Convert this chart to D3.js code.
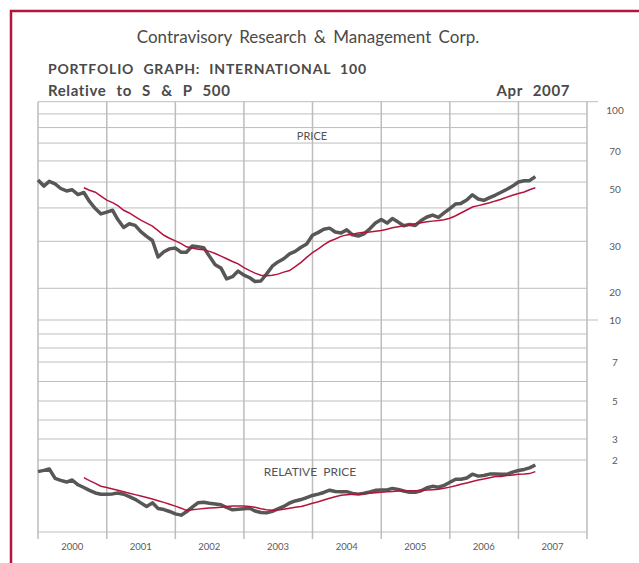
<!DOCTYPE html>
<html>
<head>
<meta charset="utf-8">
<script src="https://cdn.jsdelivr.net/npm/d3@7"></script>
<style>
body { margin: 0; background: #fff; }
svg { display: block; font-family: Lato, "Open Sans", sans-serif; }
</style>
</head>
<body>
<svg id="chart" width="639" height="563"></svg>
<script>
// monthly closes, Jan 2000 .. Apr 2007
var priceValues = [50.9, 48.3, 50.3, 49.2, 47.3, 46.3, 46.8, 44.9, 45.7, 42.3, 39.8, 38.0,
	38.6, 39.2, 36.2, 33.8, 34.9, 34.4, 32.6, 31.3, 30.2, 26.2, 27.4, 28.1,
	28.3, 27.3, 27.3, 28.8, 28.6, 28.4, 26.4, 24.5, 23.8, 21.7, 22.1, 23.2,
	22.4, 21.9, 21.2, 21.3, 22.6, 24.2, 25.1, 25.8, 26.9, 27.5, 28.5, 29.3,
	31.6, 32.4, 33.3, 33.6, 32.5, 32.2, 33.1, 31.7, 31.4, 32.0, 33.4, 35.1,
	36.2, 35.1, 36.5, 35.4, 34.3, 34.7, 34.4, 35.9, 37.0, 37.6, 36.9, 38.3,
	39.8, 41.4, 41.6, 42.8, 44.8, 43.2, 42.7, 43.7, 44.7, 45.8, 47.0, 48.3,
	50.0, 50.6, 50.6, 52.4];

// moyenne mobile, commence en sept 2000
var avgStart = 8;
var priceAvg = [47.6, 46.6, 45.8, 44.3,
	42.8, 41.9, 40.8, 39.2, 38.3, 37.1, 36.0, 35.1, 34.2, 32.9, 31.6, 30.8,
	30.1, 29.4, 28.6, 28.3, 28.0, 27.9, 27.5, 27.0, 26.4, 25.8, 25.2, 24.7,
	23.9, 23.3, 22.8, 22.4, 22.3, 22.4, 22.6, 23.0, 23.3, 24.1, 25.0, 26.1,
	27.2, 28.1, 29.1, 30.0, 30.6, 31.3, 31.7, 31.9, 32.2, 32.4, 32.5, 32.7,
	32.9, 33.3, 33.7, 34.0, 34.3, 34.6, 34.9, 35.2, 35.5, 35.7, 35.9, 36.1,
	36.6, 37.4, 38.3, 39.3, 40.3, 40.8, 41.3, 41.8, 42.5, 43.1, 43.9, 44.6,
	45.3, 45.9, 46.8, 47.6];

var relValues = [1.172, 1.184, 1.199, 1.105, 1.087, 1.071, 1.090, 1.046, 1.022, 0.997, 0.975, 0.964,
	0.964, 0.967, 0.974, 0.964, 0.945, 0.923, 0.895, 0.867, 0.895, 0.853, 0.845, 0.831,
	0.814, 0.805, 0.829, 0.862, 0.895, 0.899, 0.892, 0.886, 0.880, 0.860, 0.843, 0.847,
	0.851, 0.854, 0.834, 0.824, 0.821, 0.832, 0.849, 0.868, 0.894, 0.910, 0.921, 0.937,
	0.954, 0.965, 0.979, 0.998, 0.987, 0.985, 0.986, 0.971, 0.965, 0.972, 0.983, 0.997,
	1.000, 1.001, 1.014, 1.004, 0.991, 0.980, 0.980, 0.994, 1.019, 1.032, 1.024, 1.040,
	1.069, 1.097, 1.097, 1.109, 1.146, 1.127, 1.133, 1.147, 1.148, 1.146, 1.145, 1.167,
	1.183, 1.194, 1.210, 1.241];

var relAvg = [1.112, 1.084, 1.059, 1.033,
	1.021, 1.009, 0.997, 0.985, 0.973, 0.961, 0.950, 0.937, 0.925, 0.912, 0.899, 0.885,
	0.870, 0.855, 0.839, 0.844, 0.848, 0.853, 0.856, 0.859, 0.862, 0.867, 0.871, 0.871,
	0.871, 0.867, 0.861, 0.850, 0.844, 0.840, 0.841, 0.847, 0.854, 0.861, 0.868, 0.879,
	0.892, 0.904, 0.917, 0.931, 0.944, 0.956, 0.960, 0.963, 0.965, 0.969, 0.973, 0.976,
	0.980, 0.984, 0.987, 0.991, 0.992, 0.993, 0.994, 0.996, 0.999, 1.003, 1.006, 1.016,
	1.025, 1.037, 1.050, 1.063, 1.076, 1.090, 1.100, 1.112, 1.123, 1.124, 1.133, 1.139,
	1.145, 1.147, 1.152, 1.172];

var yearLabels = ["2000", "2001", "2002", "2003", "2004", "2005", "2006", "2007"];
var priceGrid = [100, 90, 80, 70, 60, 50, 40, 30, 20];
var priceTicks = [100, 70, 50, 30, 20];
var lowerGrid = [10, 9, 8, 7, 6, 5, 4, 3, 2];
var lowerTicks = [10, 7, 5, 3, 2];

var svg = d3.select("#chart");
var red = "#b3143c", grey = "#575757", gridCol = "#bdbdbd", txt = "#4a4a4a";

var plotLeft = 38, plotRight = 587, plotTop = 101.7, plotBottom = 532, split = 320;

// échelles
var months = d3.timeMonth.range(new Date(2000, 0, 1), new Date(2007, 4, 1));
var x = d3.scaleTime().domain([new Date(2000, 0, 1), new Date(2008, 0, 1)]).range([plotLeft, plotRight]);
var yPrice = d3.scaleLog().domain([20, 100]).range([288.3, plotTop]);
var yPriceLabel = d3.scaleLog().domain([20, 100]).range([292.7, 110.7]);
var yLower = d3.scaleLinear().domain([10, 7, 5, 3, 2]).range([split, 362, 401, 439, 460]);
var yRel = d3.scaleLog().domain([1, 2]).range([490, 409.6]);

// cadre rouge
svg.append("path")
	.attr("d", "M11,563 V11 H639")
	.attr("fill", "none").attr("stroke", red).attr("stroke-width", 2.5);

// titres
svg.append("text").attr("x", 308).attr("y", 43).attr("text-anchor", "middle")
	.attr("font-size", 17).attr("fill", txt).attr("word-spacing", 3)
	.text("Contravisory Research & Management Corp.");
svg.append("text").attr("x", 48).attr("y", 74)
	.attr("font-size", 14).attr("font-weight", "bold").attr("fill", txt)
	.attr("word-spacing", 5).attr("letter-spacing", 0.8)
	.text("PORTFOLIO GRAPH: INTERNATIONAL 100");
svg.append("text").attr("x", 48).attr("y", 96)
	.attr("font-size", 15).attr("font-weight", "bold").attr("fill", txt)
	.attr("word-spacing", 6).attr("letter-spacing", 0.6)
	.text("Relative to S & P 500");
svg.append("text").attr("x", 570).attr("y", 96).attr("text-anchor", "end")
	.attr("font-size", 15).attr("font-weight", "bold").attr("fill", txt)
	.attr("word-spacing", 6).attr("letter-spacing", 0.6)
	.text("Apr 2007");

// grille horizontale
var grid = svg.append("g").attr("stroke", gridCol).attr("stroke-width", 1);
grid.selectAll(".hp").data(priceGrid).enter().append("line")
	.attr("x1", plotLeft).attr("x2", function(d){ return d == 100 ? 598 : plotRight; })
	.attr("y1", function(d){ return yPrice(d); }).attr("y2", function(d){ return yPrice(d); });
grid.selectAll(".hl").data(lowerGrid).enter().append("line")
	.attr("x1", plotLeft).attr("x2", function(d){ return d == 10 ? 598 : plotRight; })
	.attr("y1", function(d){ return yLower(d); }).attr("y2", function(d){ return yLower(d); });
grid.append("line").attr("x1", plotLeft).attr("x2", plotRight).attr("y1", plotBottom).attr("y2", plotBottom);

// grille verticale (années)
var years = d3.timeYear.range(new Date(2000, 0, 1), new Date(2009, 0, 1));
svg.append("g").selectAll("line").data(years).enter().append("line")
	.attr("x1", function(d){ return x(d); }).attr("x2", function(d){ return x(d); })
	.attr("y1", plotTop).attr("y2", 539)
	.attr("stroke", gridCol).attr("stroke-width", 1.5);

// étiquettes des années
svg.append("g").selectAll("text").data(yearLabels).enter().append("text")
	.attr("x", function(d){ return x(new Date(+d, 6, 1)); })
	.attr("y", 550).attr("text-anchor", "middle")
	.attr("font-size", 9.5).attr("fill", "#5a5a5a")
	.text(function(d){ return d; });

// échelle de droite
svg.append("g").selectAll("text").data(priceTicks).enter().append("text")
	.attr("x", 615).attr("y", function(d){ return yPriceLabel(d); }).attr("dy", "0.35em")
	.attr("text-anchor", "middle").attr("font-size", 10).attr("fill", "#5a5a5a")
	.text(function(d){ return d; });
svg.append("g").selectAll("text").data(lowerTicks).enter().append("text")
	.attr("x", 615).attr("y", function(d){ return yLower(d); }).attr("dy", "0.35em")
	.attr("text-anchor", "middle").attr("font-size", 10).attr("fill", "#5a5a5a")
	.text(function(d){ return d; });

// libellés des panneaux
svg.append("text").attr("x", 312).attr("y", 140).attr("text-anchor", "middle")
	.attr("font-size", 11).attr("fill", "#555").text("PRICE");
svg.append("text").attr("x", 310).attr("y", 476).attr("text-anchor", "middle")
	.attr("font-size", 12).attr("fill", "#555").attr("word-spacing", 3).text("RELATIVE PRICE");

// courbes
var priceLine = d3.line().x(function(d, i){ return x(months[i]); }).y(function(d){ return yPrice(d); });
var priceAvgLine = d3.line().x(function(d, i){ return x(months[i + avgStart]); }).y(function(d){ return yPrice(d); });
var relLine = d3.line().x(function(d, i){ return x(months[i]); }).y(function(d){ return yRel(d); });
var relAvgLine = d3.line().x(function(d, i){ return x(months[i + avgStart]); }).y(function(d){ return yRel(d); });

svg.append("path").datum(priceValues).attr("d", priceLine)
	.attr("fill", "none").attr("stroke", grey).attr("stroke-width", 3.5).attr("stroke-linejoin", "round");
svg.append("path").datum(priceAvg).attr("d", priceAvgLine)
	.attr("fill", "none").attr("stroke", red).attr("stroke-width", 1.5);
svg.append("path").datum(relValues).attr("d", relLine)
	.attr("fill", "none").attr("stroke", grey).attr("stroke-width", 3.5).attr("stroke-linejoin", "round");
svg.append("path").datum(relAvg).attr("d", relAvgLine)
	.attr("fill", "none").attr("stroke", red).attr("stroke-width", 1.5);
</script>
</body>
</html>
